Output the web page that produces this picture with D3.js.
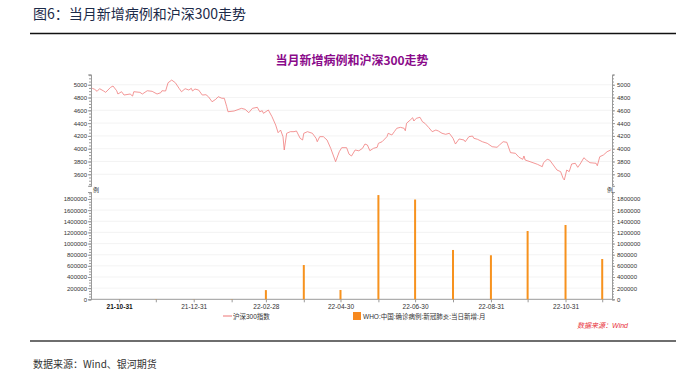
<!DOCTYPE html>
<html>
<head>
<meta charset="utf-8">
<script src="https://cdn.jsdelivr.net/npm/d3@7"></script>
<style>
  body { margin: 0; background: #fff; }
  svg text { font-family: "Liberation Sans", "Noto Sans CJK SC", sans-serif; }
</style>
</head>
<body>
<script>
// CSI 300 index (dates and closes)
var hsDates = [
  "2021-10-09","2021-10-11","2021-10-13","2021-10-15","2021-10-18","2021-10-20","2021-10-24","2021-10-26","2021-10-29","2021-10-30",
  "2021-11-02","2021-11-04","2021-11-09","2021-11-11","2021-11-12","2021-11-17","2021-11-19","2021-11-23","2021-11-27",
  "2021-12-01","2021-12-04","2021-12-05","2021-12-08","2021-12-10","2021-12-13","2021-12-16","2021-12-19","2021-12-21","2021-12-24","2021-12-27","2021-12-29","2021-12-30",
  "2022-01-01","2022-01-04","2022-01-07","2022-01-10","2022-01-12","2022-01-15","2022-01-18","2022-01-20","2022-01-23","2022-01-25","2022-01-27","2022-01-28",
  "2022-02-02","2022-02-08","2022-02-11","2022-02-14","2022-02-17","2022-02-21","2022-02-23","2022-02-25","2022-02-26",
  "2022-03-02","2022-03-05","2022-03-08","2022-03-10","2022-03-12","2022-03-14","2022-03-15","2022-03-17","2022-03-20","2022-03-23","2022-03-25","2022-03-28","2022-03-30","2022-03-31",
  "2022-04-03","2022-04-07","2022-04-10","2022-04-11","2022-04-13","2022-04-16","2022-04-19","2022-04-22","2022-04-24","2022-04-26","2022-04-29",
  "2022-05-01","2022-05-05","2022-05-07","2022-05-09","2022-05-12","2022-05-15","2022-05-18","2022-05-20","2022-05-22","2022-05-24","2022-05-27","2022-05-30","2022-05-31",
  "2022-06-03","2022-06-07","2022-06-08","2022-06-11","2022-06-13","2022-06-15","2022-06-18","2022-06-21","2022-06-22","2022-06-23","2022-06-26","2022-06-28","2022-06-29",
  "2022-07-01","2022-07-04","2022-07-06","2022-07-08","2022-07-11","2022-07-14","2022-07-17","2022-07-19","2022-07-22","2022-07-25","2022-07-28","2022-07-31",
  "2022-08-02","2022-08-05","2022-08-09","2022-08-10","2022-08-13","2022-08-16","2022-08-17","2022-08-20","2022-08-24","2022-08-28",
  "2022-09-01","2022-09-05","2022-09-07","2022-09-10","2022-09-13","2022-09-16","2022-09-20","2022-09-23","2022-09-26","2022-09-27","2022-09-28",
  "2022-10-02","2022-10-08","2022-10-12","2022-10-13","2022-10-16","2022-10-18","2022-10-21","2022-10-24","2022-10-27","2022-10-29","2022-10-30",
  "2022-11-01","2022-11-03","2022-11-05","2022-11-08","2022-11-10","2022-11-12","2022-11-15","2022-11-17","2022-11-20","2022-11-25","2022-11-26","2022-11-28",
  "2022-12-01","2022-12-04","2022-12-07"
];
var hsValues = [
  4944,4928,4897,4938,4906,4881,4959,4980,4906,4855,
  4891,4839,4855,4823,4891,4881,4855,4906,4897,
  4855,4875,4906,4902,5031,5073,5031,4944,4891,4938,4917,4944,4902,
  4933,4917,4839,4844,4813,4734,4772,4813,4788,4788,4656,4578,
  4589,4631,4616,4563,4631,4647,4578,4594,4553,
  4605,4500,4370,4250,4292,4188,3980,4241,4266,4266,4277,4163,4136,4241,
  4266,4241,4163,4109,4188,4188,4136,4006,3902,3797,3953,
  4016,4016,3914,3886,3980,3967,4006,4073,4058,3969,4006,4022,4084,
  4109,4188,4241,4214,4266,4319,4334,4319,4281,4397,4448,4484,4433,
  4475,4491,4422,4397,4334,4266,4292,4277,4241,4225,4241,4163,
  4073,4152,4136,4109,4188,4198,4163,4147,4109,4084,
  4031,4022,4058,4109,4100,3938,3928,3866,3834,3886,3823,
  3797,3756,3719,3781,3834,3823,3745,3667,3641,3538,3511,
  3667,3641,3761,3772,3709,3761,3859,3823,3781,3772,3734,3875,
  3902,3953,3980
];

// WHO China new confirmed cases per month
var caseMonths = ["2021-10-31","2021-11-30","2021-12-31","2022-01-31","2022-02-28","2022-03-31","2022-04-30",
                  "2022-05-31","2022-06-30","2022-07-31","2022-08-31","2022-09-30","2022-10-31","2022-11-30"];
var caseValues = [1200, 4000, 2500, 4500, 165000, 615000, 167000, 1870000, 1790000, 885000, 790000, 1225000, 1333000, 723000];

var xTickLabels = ["21-10-31","21-12-31","22-02-28","22-04-30","22-06-30","22-08-31","22-10-31"];
var topTicks = [3600, 3800, 4000, 4200, 4400, 4600, 4800, 5000];
var bottomTicks = [0, 200000, 400000, 600000, 800000, 1000000, 1200000, 1400000, 1600000, 1800000];

var parseDate = d3.timeParse("%Y-%m-%d"),
    parseLabel = d3.timeParse("%y-%m-%d");

var hsData = d3.zip(hsDates, hsValues).map(function(d){ return {date: parseDate(d[0]), value: d[1]}; });
var caseData = d3.zip(caseMonths, caseValues).map(function(d){ return {date: parseDate(d[0]), value: d[1]}; });

var width = 682, height = 378;
var left = 91, right = 612;

var svg = d3.select("body").append("svg")
    .attr("width", width)
    .attr("height", height);

// report heading and rules
svg.append("text")
    .attr("x", 33).attr("y", 19)
    .style("font-family", "Noto Sans CJK SC")
    .style("font-size", "14px")
    .attr("fill", "#1c2a48")
    .text("图6：当月新增病例和沪深300走势");
svg.append("line")
    .attr("x1", 30).attr("x2", 676).attr("y1", 33.5).attr("y2", 33.5)
    .attr("stroke", "#111").attr("stroke-width", 1.5);
svg.append("line")
    .attr("x1", 30).attr("x2", 676).attr("y1", 341).attr("y2", 341)
    .attr("stroke", "#6e6e6e").attr("stroke-width", 2);
svg.append("text")
    .attr("x", 33).attr("y", 368)
    .style("font-family", "Noto Sans CJK SC")
    .style("font-size", "10px")
    .attr("fill", "#333")
    .text("数据来源：Wind、银河期货");

// chart title
svg.append("text")
    .attr("x", 352).attr("y", 65)
    .attr("text-anchor", "middle")
    .style("font-family", "Noto Sans CJK SC")
    .style("font-size", "12px")
    .style("font-weight", "bold")
    .attr("fill", "#8a0a8a")
    .text("当月新增病例和沪深300走势");

// scales
var x = d3.scaleTime()
    .domain([parseDate("2021-10-08"), parseDate("2022-12-08")])
    .range([left, right]);
var yTop = d3.scaleLinear().domain([3420, 5160]).range([185.8, 74.5]);
var yBot = d3.scaleLinear().domain([0, 1925000]).range([299.3, 192]);

// gridlines
svg.append("g").selectAll("line")
    .data(topTicks).enter().append("line")
    .attr("x1", left).attr("x2", right)
    .attr("y1", function(d){ return yTop(d); })
    .attr("y2", function(d){ return yTop(d); })
    .attr("stroke", "#f0f0f0").attr("stroke-width", 0.8);
svg.append("g").selectAll("line")
    .data(bottomTicks.slice(1)).enter().append("line")
    .attr("x1", left).attr("x2", right)
    .attr("y1", function(d){ return yBot(d); })
    .attr("y2", function(d){ return yBot(d); })
    .attr("stroke", "#f0f0f0").attr("stroke-width", 0.8);

// axis styling helper
function styleAxis(g, size){
    g.select(".domain").attr("stroke", "#9a9a9a");
    g.selectAll(".tick line").attr("stroke", "#9a9a9a");
    g.selectAll("text").style("font-size", size).attr("fill", "#333");
}

// minor ticks
svg.append("g").attr("transform", "translate(" + left + ",0)")
    .call(d3.axisLeft(yTop).tickValues(d3.range(3450, 5160, 50)).tickSize(2).tickFormat(""))
    .call(styleAxis, "6px");
svg.append("g").attr("transform", "translate(" + right + ",0)")
    .call(d3.axisRight(yTop).tickValues(d3.range(3450, 5160, 50)).tickSize(2).tickFormat(""))
    .call(styleAxis, "6px");
svg.append("g").attr("transform", "translate(" + left + ",0)")
    .call(d3.axisLeft(yBot).tickValues(d3.range(0, 1925000, 50000)).tickSize(2).tickFormat(""))
    .call(styleAxis, "6px");
svg.append("g").attr("transform", "translate(" + right + ",0)")
    .call(d3.axisRight(yBot).tickValues(d3.range(0, 1925000, 50000)).tickSize(2).tickFormat(""))
    .call(styleAxis, "6px");

// major y axes
svg.append("g").attr("transform", "translate(" + left + ",0)")
    .call(d3.axisLeft(yTop).tickValues(topTicks).tickSize(3).tickPadding(1).tickFormat(d3.format("d")))
    .call(styleAxis, "6px");
svg.append("g").attr("transform", "translate(" + right + ",0)")
    .call(d3.axisRight(yTop).tickValues(topTicks).tickSize(3).tickPadding(2).tickFormat(d3.format("d")))
    .call(styleAxis, "6px");
svg.append("g").attr("transform", "translate(" + left + ",0)")
    .call(d3.axisLeft(yBot).tickValues(bottomTicks).tickSize(3).tickPadding(1).tickFormat(d3.format("d")))
    .call(styleAxis, "6px");
svg.append("g").attr("transform", "translate(" + right + ",0)")
    .call(d3.axisRight(yBot).tickValues(bottomTicks).tickSize(3).tickPadding(2).tickFormat(d3.format("d")))
    .call(styleAxis, "6px");

// unit labels
svg.append("text").attr("x", 93).attr("y", 191.5)
    .style("font-size", "6px").attr("fill", "#333").text("例");
svg.append("text").attr("x", 607).attr("y", 191.5)
    .style("font-size", "6px").attr("fill", "#333").text("例");

// x axis: ticks at every month end, labels every other month
var labelSet = xTickLabels.map(function(s){ return +parseLabel(s); });
var xAxis = svg.append("g").attr("transform", "translate(0,299.3)")
    .call(d3.axisBottom(x)
        .tickValues(caseData.map(function(d){ return d.date; }))
        .tickSize(3).tickPadding(2)
        .tickFormat(function(d){ return labelSet.indexOf(+d) >= 0 ? d3.timeFormat("%y-%m-%d")(d) : ""; }))
    .call(styleAxis, "6.5px");
xAxis.select(".domain").attr("d", "M" + left + ",0H" + right);
xAxis.selectAll("text").filter(function(d){ return +d === labelSet[0]; })
    .style("font-weight", "bold").attr("fill", "#111");

// monthly case bars
svg.append("g").selectAll("rect")
    .data(caseData).enter().append("rect")
    .attr("x", function(d){ return x(d.date) - 1; })
    .attr("width", 2)
    .attr("y", function(d){ return yBot(d.value); })
    .attr("height", function(d){ return yBot(0) - yBot(d.value); })
    .attr("fill", "#f7921e");

// CSI 300 line
var line = d3.line()
    .x(function(d){ return x(d.date); })
    .y(function(d){ return yTop(d.value); });
svg.append("path")
    .datum(hsData)
    .attr("d", line)
    .attr("fill", "none")
    .attr("stroke", "#f07c7c")
    .attr("stroke-width", 0.8);

// legend
svg.append("line").attr("x1", 223).attr("x2", 232).attr("y1", 316).attr("y2", 316)
    .attr("stroke", "#f3a3a3").attr("stroke-width", 1.5);
svg.append("text").attr("x", 233).attr("y", 318.5)
    .style("font-size", "6.5px").attr("fill", "#333").text("沪深300指数");
svg.append("rect").attr("x", 353).attr("y", 312).attr("width", 8).attr("height", 8)
    .attr("fill", "#f7891f");
svg.append("text").attr("x", 363).attr("y", 318.5)
    .style("font-size", "6.5px").attr("fill", "#333").text("WHO:中国:确诊病例:新冠肺炎:当日新增:月");

// source note
svg.append("text").attr("x", 628).attr("y", 328)
    .attr("text-anchor", "end")
    .style("font-size", "7px").style("font-style", "italic")
    .attr("fill", "#e8303a").text("数据来源：Wind");
</script>
</body>
</html>
